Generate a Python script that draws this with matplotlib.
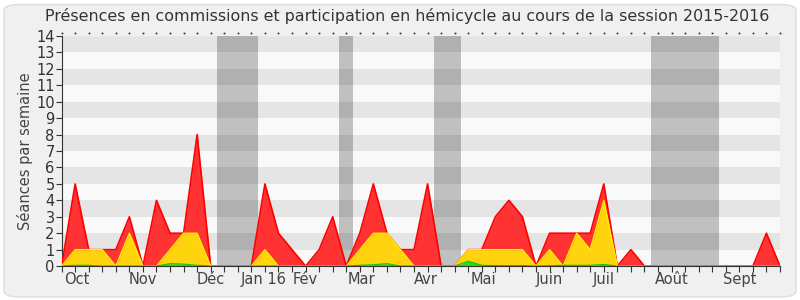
import numpy as np
import matplotlib
matplotlib.use("Agg")
import matplotlib.pyplot as plt
from matplotlib.patches import FancyBboxPatch

# weekly values, session 2015-2016
total = [0, 5, 1, 1, 1, 3, 0, 4, 2, 2, 8, 0, 0, 0, 0, 5, 2, 1, 0, 1,
         3, 0, 2, 5, 2, 1, 1, 5, 0, 0, 1, 1, 3, 4, 3, 0, 2, 2, 2, 2,
         5, 0, 1, 0, 0, 0, 0, 0, 0, 0, 0, 0, 2, 0]
hemicycle = [0, 1, 1, 1, 0, 2, 0, 0, 1, 2, 2, 0, 0, 0, 0, 1, 0, 0, 0, 0,
             0, 0, 1, 2, 2, 1, 0, 0, 0, 0, 1, 1, 1, 1, 1, 0, 1, 0, 2, 1,
             4, 0, 0, 0, 0, 0, 0, 0, 0, 0, 0, 0, 0, 0]
commission = [0, 0.05, 0.05, 0, 0, 0, 0, 0, 0.15, 0.12, 0.05, 0, 0, 0, 0, 0, 0, 0, 0, 0,
              0, 0, 0.05, 0.08, 0.15, 0, 0, 0, 0, 0, 0.3, 0.05, 0.03, 0.03, 0.03, 0, 0.02, 0.05, 0.05, 0.05,
              0.1, 0, 0, 0, 0, 0, 0, 0, 0, 0, 0, 0, 0, 0]
vacances = [(11.5, 14.5), (20.5, 21.5), (27.5, 29.5), (43.5, 48.5)]
mois = ["Oct", "Nov", "Déc", "Jan 16", "Fév", "Mar", "Avr", "Mai", "Juin", "Juil", "Août", "Sept"]
mois_pos = [1.1, 6.0, 11.0, 14.9, 18.0, 22.1, 26.9, 31.1, 36.0, 40.0, 45.0, 50.0]

weeks = np.arange(len(total))

fig = plt.figure(figsize=(8, 3), dpi=100)
fig.patch.set_facecolor("white")
fig.patches.append(FancyBboxPatch((0.005, 0.01), 0.99, 0.975, boxstyle="round,pad=0,rounding_size=0.02",
                                  transform=fig.transFigure, facecolor="#f0f0f0", edgecolor="#dddddd",
                                  linewidth=1, zorder=-10))
ax = fig.add_axes([0.077, 0.113, 0.898, 0.767])
ax.set_facecolor("#f9f9f9")

for a, b in vacances:
    ax.axvspan(a, b, color="#c0c0c0", lw=0, zorder=1)
for y in range(1, 14, 2):
    ax.axhspan(y, y + 1, color="black", alpha=0.08, lw=0, zorder=2)

ax.fill_between(weeks, total, color="#ff3333", lw=0, zorder=3)
ax.plot(weeks, total, color="#ff0000", lw=1.2, zorder=4)
ax.fill_between(weeks, hemicycle, color="#ffd40f", lw=0, zorder=5)
ax.plot(weeks, hemicycle, color="#ffee00", lw=1, zorder=6)
ax.fill_between(weeks, commission, color="#22dd22", lw=0, zorder=7)
ax.plot(weeks, commission, color="#00cc00", lw=0.8, zorder=8)

ax.set_xlim(0, len(total) - 1)
ax.set_ylim(0, 14)
ax.set_yticks(range(0, 15))
ax.tick_params(axis="y", labelsize=10.5, length=4, pad=1, colors="#333333")
ax.set_xticks(weeks)
ax.set_xticklabels([])
ax.tick_params(axis="x", length=4, color="#333333")
# small dotted ticks along the top edge
ax.plot(weeks, np.full(len(weeks), 1.015), transform=ax.get_xaxis_transform(), ls="",
        marker="s", ms=1.2, mew=0, color="#222222", clip_on=False, zorder=20)
for m, p in zip(mois, mois_pos):
    ax.text(p, -0.35, m, ha="center", va="top", fontsize=10.5, color="#444444")
ax.set_ylabel("Séances par semaine", fontsize=10.5, color="#444444", labelpad=2)
for s in ["top", "right"]:
    ax.spines[s].set_visible(False)
ax.spines["left"].set_color("#333333")
ax.spines["bottom"].set_color("#333333")
ax.spines["bottom"].set_zorder(10)

fig.text(0.509, 0.975, "Présences en commissions et participation en hémicycle au cours de la session 2015-2016",
         ha="center", va="top", fontsize=11.4, color="#333333")

fig.savefig("out.png", dpi=100, facecolor=fig.get_facecolor())
